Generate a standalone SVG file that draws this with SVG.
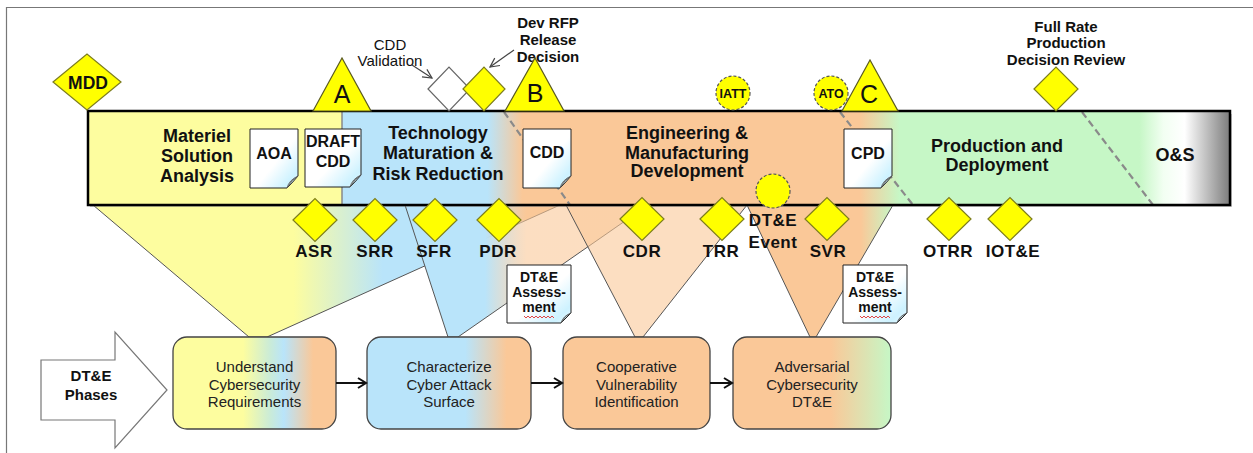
<svg xmlns="http://www.w3.org/2000/svg" width="1253" height="453" viewBox="0 0 1253 453">
  <style>
    text { font-family: "Liberation Sans", Arial, sans-serif; fill: #111; }
    .ph { font-size: 18px; font-weight: bold; text-anchor: middle; }
    .doc-t { font-size: 16px; font-weight: bold; text-anchor: middle; }
    .as-t { font-size: 14px; font-weight: bold; text-anchor: middle; }
    .ms { font-size: 17px; font-weight: bold; text-anchor: middle; letter-spacing: 0.5px; }
    .big { font-size: 25px; text-anchor: middle; }
    .note { font-size: 15px; text-anchor: middle; }
    .note-b { font-size: 15px; font-weight: bold; text-anchor: middle; }
    .box-t { font-size: 15px; text-anchor: middle; fill: #222; }
    .circ-t { font-size: 12.5px; font-weight: bold; text-anchor: middle; }
    .dia { fill: #FFFF00; stroke: #7D7D1E; stroke-width: 1.2; }
    .tri { fill: #FFFF00; stroke: #5A5A20; stroke-width: 1.2; }
    .circ { fill: #FFFF00; stroke: #555; stroke-width: 1.2; stroke-dasharray: 3 2; }
    .funnel { stroke: #555; stroke-width: 1; }
    .docshape { fill: url(#docGrad); stroke: #222; stroke-width: 1; }
    .curl { fill: #A9BCC4; stroke: #555; stroke-width: 0.8; }
    .phase-dash { stroke: #8A8A8A; stroke-width: 2.2; stroke-dasharray: 7 4; fill: none; }
    .pbox { stroke: #444; stroke-width: 1.3; }
    .flow { stroke: #111; stroke-width: 2; fill: none; marker-end: url(#openArrow); }
    .call { stroke: #444; stroke-width: 1.2; fill: none; marker-end: url(#thinArrow); }
    .wavy { stroke: #E03030; stroke-width: 0.9; fill: none; }
  </style>
  <defs>
    <linearGradient id="barGrad" gradientUnits="userSpaceOnUse" x1="342" y1="0" x2="1230" y2="0">
      <stop offset="0" stop-color="#B9E4FA"/>
      <stop offset="0.164" stop-color="#B9E4FA"/>
      <stop offset="0.203" stop-color="#FAC898"/>
      <stop offset="0.583" stop-color="#FAC898"/>
      <stop offset="0.628" stop-color="#C6F7C6"/>
      <stop offset="0.898" stop-color="#C6F7C6"/>
      <stop offset="0.925" stop-color="#F2FFF2"/>
      <stop offset="0.949" stop-color="#FFFFFF"/>
      <stop offset="1" stop-color="#7C7C7C"/>
    </linearGradient>
    <linearGradient id="fYellow" gradientUnits="userSpaceOnUse" x1="93" y1="0" x2="560" y2="0">
      <stop offset="0" stop-color="#FDFD9F"/>
      <stop offset="0.43" stop-color="#FDFD9F"/>
      <stop offset="0.62" stop-color="#B9E4FA"/>
      <stop offset="0.72" stop-color="#B9E4FA"/>
      <stop offset="0.92" stop-color="#FAC898"/>
      <stop offset="1" stop-color="#FAC898"/>
    </linearGradient>
    <linearGradient id="fBlue" gradientUnits="userSpaceOnUse" x1="405" y1="0" x2="648" y2="0">
      <stop offset="0" stop-color="#B9E4FA"/>
      <stop offset="0.33" stop-color="#B9E4FA"/>
      <stop offset="0.5" stop-color="#FAC898" stop-opacity="0.6"/>
      <stop offset="1" stop-color="#FAC898" stop-opacity="0.6"/>
    </linearGradient>
    <linearGradient id="fOrange" gradientUnits="userSpaceOnUse" x1="747" y1="0" x2="893" y2="0">
      <stop offset="0" stop-color="#FAC898"/>
      <stop offset="0.78" stop-color="#FAC898"/>
      <stop offset="1" stop-color="#C6F7C6"/>
    </linearGradient>
    <linearGradient id="boxMix1" x1="0" y1="0" x2="1" y2="0">
      <stop offset="0" stop-color="#FDFD9F"/>
      <stop offset="0.43" stop-color="#FDFD9F"/>
      <stop offset="0.6" stop-color="#C9EBD9"/>
      <stop offset="0.68" stop-color="#B9E4FA"/>
      <stop offset="0.86" stop-color="#FAC898"/>
      <stop offset="1" stop-color="#FAC898"/>
    </linearGradient>
    <linearGradient id="boxMix2" x1="0" y1="0" x2="1" y2="0">
      <stop offset="0" stop-color="#B9E4FA"/>
      <stop offset="0.6" stop-color="#B9E4FA"/>
      <stop offset="0.85" stop-color="#FAC898"/>
      <stop offset="1" stop-color="#FAC898"/>
    </linearGradient>
    <linearGradient id="boxMix4" x1="0" y1="0" x2="1" y2="0">
      <stop offset="0" stop-color="#FAC898"/>
      <stop offset="0.62" stop-color="#FAC898"/>
      <stop offset="1" stop-color="#C6F7C6"/>
    </linearGradient>
    <linearGradient id="docGrad" x1="0" y1="0" x2="1" y2="1">
      <stop offset="0" stop-color="#FFFFFF"/>
      <stop offset="0.55" stop-color="#FFFFFF"/>
      <stop offset="0.85" stop-color="#CDF2FF"/>
      <stop offset="1" stop-color="#E8F8FF"/>
    </linearGradient>
    <marker id="openArrow" markerWidth="12" markerHeight="12" refX="9" refY="6" orient="auto" markerUnits="userSpaceOnUse">
      <path d="M1,1 L9,6 L1,11" fill="none" stroke="#111" stroke-width="2"/>
    </marker>
    <marker id="thinArrow" markerWidth="12" markerHeight="12" refX="10" refY="6" orient="auto" markerUnits="userSpaceOnUse">
      <path d="M1,1.5 L10,6 L1,10.5" fill="none" stroke="#444" stroke-width="1.2"/>
    </marker>
    <!-- document page with curled bottom-right corner -->
    <symbol id="page48" overflow="visible">
      <path class="docshape" d="M0,0 H48 V47 Q43,53 37,59 H0 Z"/>
      <path class="curl" d="M37,59 Q39,51 48,47 Q42,50 37,59 Z"/>
    </symbol>
    <symbol id="page56" overflow="visible">
      <path class="docshape" d="M0,0 H56 V46 Q51,52 45,58 H0 Z"/>
      <path class="curl" d="M45,58 Q47,50 56,46 Q50,49 45,58 Z"/>
    </symbol>
    <symbol id="page64" overflow="visible">
      <path class="docshape" d="M0,0 H64 V48 Q59,53 54,58 H0 Z"/>
      <path class="curl" d="M54,58 Q56,51 64,48 Q58,50 54,58 Z"/>
    </symbol>
  </defs>

  <rect width="1253" height="453" fill="#FFFFFF"/>
  <!-- outer frame -->
  <path d="M6.5,453 V7.5 H1253" fill="none" stroke="#777" stroke-width="1.2"/>

  <!-- funnels from lifecycle phases down to test phases -->
  <g id="funnels">
    <polygon class="funnel" fill="url(#fYellow)" points="93,205 560,205 267,337 249,337"/>
    <polygon class="funnel" fill="url(#fBlue)" points="405,205 648,205 458,337 448,337"/>
    <polygon class="funnel" fill="#FAC898" fill-opacity="0.6" points="566,205 747,205 643,337 635,337"/>
    <polygon class="funnel" fill="url(#fOrange)" points="747,205 893,205 816,337 810,337"/>
  </g>

  <!-- acquisition lifecycle bar -->
  <g id="lifecycle-bar">
    <rect x="90" y="114" width="1142" height="93" fill="#999" opacity="0.5"/>
    <rect x="88" y="111" width="254" height="94" fill="#FDFD9F"/>
    <rect x="342" y="111" width="888" height="94" fill="url(#barGrad)"/>
    <line x1="342" y1="112" x2="342" y2="204" stroke="#888" stroke-width="1.5"/>
    <line class="phase-dash" x1="504" y1="112" x2="570" y2="205"/>
    <line class="phase-dash" x1="840" y1="112" x2="913" y2="205"/>
    <line class="phase-dash" x1="1082" y1="112" x2="1153" y2="205"/>
    <rect x="88" y="111" width="1142" height="94" fill="none" stroke="#000" stroke-width="2.5"/>
  </g>

  <g id="phase-msa">
    <text class="ph" x="197" y="142">Materiel</text>
    <text class="ph" x="197" y="162">Solution</text>
    <text class="ph" x="197" y="182">Analysis</text>
  </g>
  <g id="phase-tmrr">
    <text class="ph" x="438" y="139">Technology</text>
    <text class="ph" x="438" y="159">Maturation &amp;</text>
    <text class="ph" x="438" y="180">Risk Reduction</text>
  </g>
  <g id="phase-emd">
    <text class="ph" x="687" y="139">Engineering &amp;</text>
    <text class="ph" x="687" y="159">Manufacturing</text>
    <text class="ph" x="687" y="177">Development</text>
  </g>
  <g id="phase-pd">
    <text class="ph" x="997" y="152">Production and</text>
    <text class="ph" x="997" y="171">Deployment</text>
  </g>
  <g id="phase-os">
    <text class="ph" x="1175" y="161">O&amp;S</text>
  </g>

  <!-- documents -->
  <g id="doc-aoa">
    <use href="#page48" x="250" y="129"/>
    <text class="doc-t" x="274" y="159">AOA</text>
  </g>
  <g id="doc-draft-cdd">
    <use href="#page56" x="305" y="129"/>
    <text class="doc-t" x="333" y="147">DRAFT</text>
    <text class="doc-t" x="333" y="167">CDD</text>
  </g>
  <g id="doc-cdd">
    <use href="#page48" x="523" y="129"/>
    <text class="doc-t" x="547" y="158">CDD</text>
  </g>
  <g id="doc-cpd">
    <use href="#page48" x="844" y="129"/>
    <text class="doc-t" x="868" y="159">CPD</text>
  </g>
  <g id="doc-assess-1">
    <use href="#page64" x="507" y="265"/>
    <text class="as-t" x="539" y="282">DT&amp;E</text>
    <text class="as-t" x="539" y="297">Assess-</text>
    <text class="as-t" x="539" y="312">ment</text>
    <path class="wavy" d="M524,316 l2,2 l2,-2 l2,2 l2,-2 l2,2 l2,-2 l2,2 l2,-2 l2,2 l2,-2 l2,2 l2,-2 l2,2 l2,-2 l2,2"/>
  </g>
  <g id="doc-assess-2">
    <use href="#page64" x="843" y="265"/>
    <text class="as-t" x="875" y="282">DT&amp;E</text>
    <text class="as-t" x="875" y="297">Assess-</text>
    <text class="as-t" x="875" y="312">ment</text>
    <path class="wavy" d="M860,316 l2,2 l2,-2 l2,2 l2,-2 l2,2 l2,-2 l2,2 l2,-2 l2,2 l2,-2 l2,2 l2,-2 l2,2 l2,-2 l2,2"/>
  </g>

  <!-- milestones above the bar -->
  <g id="ms-mdd">
    <polygon class="dia" points="53,82 87,54 121,82 87,110"/>
    <text class="ms" x="88" y="89" style="font-size:17.5px;letter-spacing:0">MDD</text>
  </g>
  <g id="ms-a">
    <polygon class="tri" points="313,111 342,58 371,111"/>
    <text class="big" x="342" y="103">A</text>
  </g>
  <g id="ms-cdd-validation">
    <polygon points="428,89 449,67 470,89 449,111" fill="#FFFFFF" stroke="#666" stroke-width="1.2"/>
    <text class="note" x="390" y="50">CDD</text>
    <text class="note" x="390" y="66">Validation</text>
  </g>
  <g id="ms-dev-rfp">
    <polygon class="dia" points="463,89 484,67 505,89 484,111"/>
    <text class="note-b" x="548" y="28">Dev RFP</text>
    <text class="note-b" x="548" y="45">Release</text>
    <text class="note-b" x="548" y="62">Decision</text>
  </g>
  <g id="ms-b">
    <polygon class="tri" points="505,111 535,58 564,111"/>
    <text class="big" x="535" y="102">B</text>
  </g>
  <g id="ms-iatt">
    <circle class="circ" cx="733" cy="93" r="17"/>
    <text class="circ-t" x="733" y="97.5">IATT</text>
  </g>
  <g id="ms-ato">
    <circle class="circ" cx="831" cy="93" r="17"/>
    <text class="circ-t" x="831" y="97.5">ATO</text>
  </g>
  <g id="ms-c">
    <polygon class="tri" points="842,111 870,60 898,111"/>
    <text class="big" x="869" y="103">C</text>
  </g>
  <g id="ms-frp">
    <polygon class="dia" points="1034,89 1056,67 1078,89 1056,111"/>
    <text class="note-b" x="1066" y="32">Full Rate</text>
    <text class="note-b" x="1066" y="48">Production</text>
    <text class="note-b" x="1066" y="65">Decision Review</text>
  </g>

  <!-- technical reviews below the bar -->
  <g id="rv-asr">
    <polygon class="dia" points="293,220 315,198.5 337,220 315,241.5"/>
    <text class="ms" x="314" y="257">ASR</text>
  </g>
  <g id="rv-srr">
    <polygon class="dia" points="353,220 375,198.5 397,220 375,241.5"/>
    <text class="ms" x="375" y="257">SRR</text>
  </g>
  <g id="rv-sfr">
    <polygon class="dia" points="413,220 435,198.5 457,220 435,241.5"/>
    <text class="ms" x="434" y="257">SFR</text>
  </g>
  <g id="rv-pdr">
    <polygon class="dia" points="477,220 499,198.5 521,220 499,241.5"/>
    <text class="ms" x="498" y="257">PDR</text>
  </g>
  <g id="rv-cdr">
    <polygon class="dia" points="620,219 642,197.5 664,219 642,240.5"/>
    <text class="ms" x="642" y="257">CDR</text>
  </g>
  <g id="rv-trr">
    <polygon class="dia" points="700,219 722,197.5 744,219 722,240.5"/>
    <text class="ms" x="721" y="257">TRR</text>
  </g>
  <g id="ev-dte">
    <circle class="circ" cx="773" cy="191" r="17"/>
    <text class="ms" x="773" y="226">DT&amp;E</text>
    <text class="ms" x="773" y="248">Event</text>
  </g>
  <g id="rv-svr">
    <polygon class="dia" points="805,219 827,197.5 849,219 827,240.5"/>
    <text class="ms" x="828" y="257">SVR</text>
  </g>
  <g id="rv-otrr">
    <polygon class="dia" points="927,219 949,197.5 971,219 949,240.5"/>
    <text class="ms" x="948" y="257">OTRR</text>
  </g>
  <g id="rv-iote">
    <polygon class="dia" points="988,219 1010,197.5 1032,219 1010,240.5"/>
    <text class="ms" x="1013" y="257">IOT&amp;E</text>
  </g>

  <!-- DT&E phases row -->
  <g id="dte-phases">
    <polygon points="41,360 115,360 115,332 167,390 115,448 115,420 41,420" fill="#FFFFFF" stroke="#777" stroke-width="1.2"/>
    <text class="as-t" x="91" y="381" style="font-size:15px">DT&amp;E</text>
    <text class="as-t" x="91" y="400" style="font-size:15px">Phases</text>
  </g>
  <g id="step-understand">
    <rect class="pbox" x="173" y="337" width="163" height="92" rx="14" fill="url(#boxMix1)"/>
    <text class="box-t" x="254.5" y="372">Understand</text>
    <text class="box-t" x="254.5" y="390">Cybersecurity</text>
    <text class="box-t" x="254.5" y="407">Requirements</text>
  </g>
  <g id="step-characterize">
    <rect class="pbox" x="367" y="337" width="164" height="92" rx="14" fill="url(#boxMix2)"/>
    <text class="box-t" x="449" y="372">Characterize</text>
    <text class="box-t" x="449" y="390">Cyber Attack</text>
    <text class="box-t" x="449" y="407">Surface</text>
  </g>
  <g id="step-cooperative">
    <rect class="pbox" x="563" y="337" width="147" height="92" rx="14" fill="#FAC898"/>
    <text class="box-t" x="636.5" y="372">Cooperative</text>
    <text class="box-t" x="636.5" y="390">Vulnerability</text>
    <text class="box-t" x="636.5" y="407">Identification</text>
  </g>
  <g id="step-adversarial">
    <rect class="pbox" x="733" y="337" width="158" height="92" rx="14" fill="url(#boxMix4)"/>
    <text class="box-t" x="812" y="372">Adversarial</text>
    <text class="box-t" x="812" y="390">Cybersecurity</text>
    <text class="box-t" x="812" y="407">DT&amp;E</text>
  </g>

  <!-- connectors -->
  <g id="connectors">
    <line class="flow" x1="336" y1="383" x2="366" y2="383"/>
    <line class="flow" x1="531" y1="383" x2="562" y2="383"/>
    <line class="flow" x1="710" y1="383" x2="732" y2="383"/>
    <line class="call" x1="412" y1="65" x2="432" y2="78"/>
    <line class="call" x1="514" y1="50" x2="490" y2="67"/>
  </g>
</svg>
